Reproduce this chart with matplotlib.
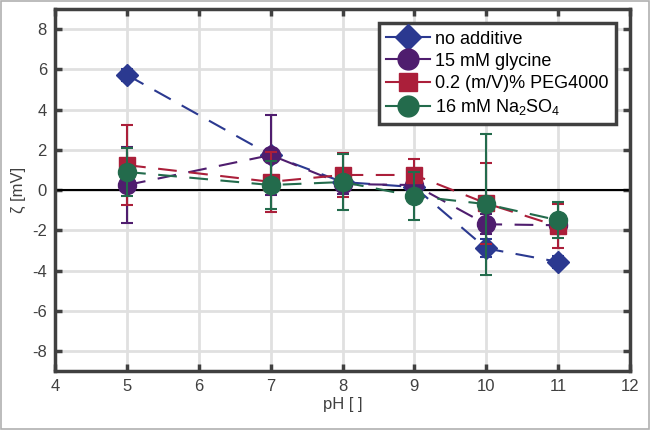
import matplotlib
matplotlib.use("Agg")
import matplotlib.pyplot as plt
from matplotlib.lines import Line2D
from matplotlib.patches import Rectangle

plt.rcParams['font.family'] = ['Liberation Sans', 'DejaVu Sans']
plt.rcParams['mathtext.default'] = 'regular'
plt.rcParams['axes.unicode_minus'] = False

ph = [5, 7, 8, 9, 10, 11]

z_none = [5.72, 1.74, 0.40, 0.15, -2.90, -3.57]
e_none = [0.30, 0.30, 0.30, 0.30, 0.45, 0.30]

z_gly = [0.25, 1.74, 0.30, 0.25, -1.70, -1.75]
e_gly = [1.90, 2.00, 0.50, 0.50, 0.50, 0.40]

z_peg = [1.24, 0.41, 0.75, 0.75, -0.66, -1.80]
e_peg = [2.00, 1.50, 1.10, 0.80, 2.00, 1.10]

z_na = [0.90, 0.25, 0.40, -0.30, -0.70, -1.50]
e_na = [1.20, 1.20, 1.40, 1.20, 3.50, 0.90]

labels = ['no additive', '15 mM glycine', '0.2 (m/V)% PEG4000', '16 mM Na$_2$SO$_4$']
colors = ['#2b3990', '#4f1d6e', '#ab1f3a', '#236b4c']
markers = ['D', 'o', 's', 'o']
msizes = [11, 13, 11, 13]

fig = plt.figure(figsize=(6.5, 4.3), dpi=100)
ax = fig.add_axes([0.085, 0.137, 0.884, 0.842])

series = [(z_none, e_none), (z_gly, e_gly), (z_peg, e_peg), (z_na, e_na)]
order = [0, 1, 3, 2]  # red drawn last, on top
for i in order:
    z, e = series[i]
    ax.errorbar(ph, z, yerr=e, color=colors[i], marker=markers[i], ms=msizes[i],
                mec=colors[i], ls=(0, (9, 6)), lw=1.5, capsize=4, elinewidth=1.5,
                capthick=1.5, zorder=3 + i)

ax.axhline(0, color='black', lw=1.5, zorder=2)

ax.set_xlim(4, 12)
ax.set_ylim(-9, 9)
ax.set_xticks(range(4, 13))
ax.set_yticks(range(-8, 9, 2))
ax.grid(True, color='#e0e0e0', lw=2)
ax.set_axisbelow(True)
ax.tick_params(direction='in', length=5, width=2.5, color='#404040',
               labelcolor='#404040', labelsize=12, top=True, right=True, pad=6)
for s in ax.spines.values():
    s.set_color('#404040')
    s.set_linewidth(2.5)
ax.set_xlabel('pH [ ]', fontsize=12, color='#404040', labelpad=2)
ax.set_ylabel('ζ [mV]', fontsize=12, color='#404040', labelpad=4)

handles = [Line2D([], [], color=colors[k], marker=markers[k], ms=msizes[k] + 2, lw=1.5)
           for k in range(4)]
leg = ax.legend(handles, labels, loc='upper right', bbox_to_anchor=(0.985, 0.975),
                fontsize=13, fancybox=False, framealpha=1, handlelength=2.4,
                handletextpad=0.3, labelspacing=0.28, borderaxespad=0.3,
                borderpad=0.4)
leg.get_frame().set_edgecolor('#404040')
leg.get_frame().set_linewidth(2.5)

fig.patches.append(Rectangle((0.002, 0.002), 0.996, 0.996, transform=fig.transFigure,
                             fill=False, edgecolor='#b0b0b0', lw=1.2))

fig.savefig('out.png', dpi=100)
